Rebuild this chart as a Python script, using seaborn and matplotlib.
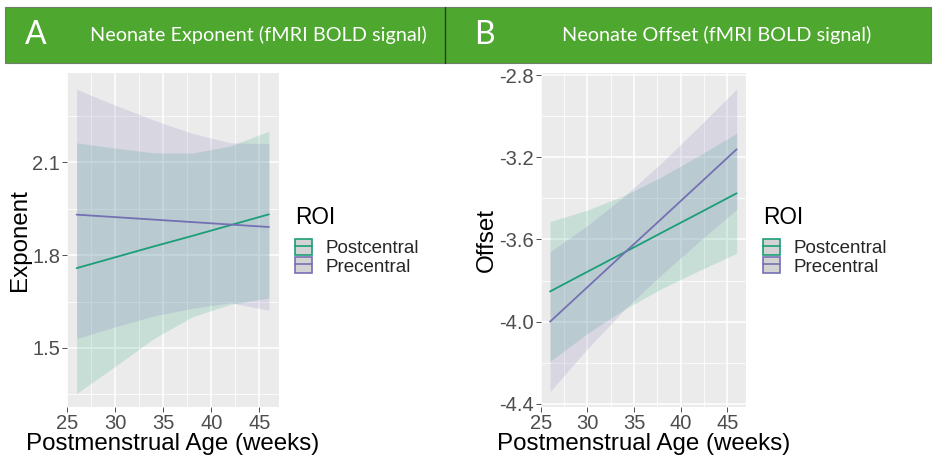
import numpy as np
import pandas as pd
import matplotlib
matplotlib.use("Agg")
import matplotlib.pyplot as plt
from matplotlib.patches import Rectangle, Patch
from matplotlib.lines import Line2D
from matplotlib.ticker import MultipleLocator
import seaborn as sns

# ---- data -------------------------------------------------------------
rois = ["Postcentral", "Precentral"]
age = [26, 30, 34, 38, 42, 46]

# Exponent: fitted line and 95% CI band per ROI
exp_post_fit = [1.758, 1.793, 1.828, 1.862, 1.897, 1.932]
exp_post_lo = [1.353, 1.440, 1.530, 1.600, 1.641, 1.662]
exp_post_hi = [2.163, 2.146, 2.131, 2.130, 2.153, 2.201]
exp_pre_fit = [1.931, 1.923, 1.915, 1.907, 1.899, 1.891]
exp_pre_lo = [1.530, 1.568, 1.603, 1.628, 1.646, 1.622]
exp_pre_hi = [2.336, 2.285, 2.237, 2.194, 2.163, 2.161]

# Offset: fitted line and 95% CI band per ROI
off_post_fit = [-3.853, -3.757, -3.662, -3.566, -3.471, -3.375]
off_post_lo = [-4.193, -4.057, -3.939, -3.838, -3.751, -3.667]
off_post_hi = [-3.513, -3.457, -3.385, -3.294, -3.191, -3.083]
off_pre_fit = [-4.000, -3.832, -3.664, -3.497, -3.329, -3.161]
off_pre_lo = [-4.340, -4.132, -3.940, -3.769, -3.609, -3.454]
off_pre_hi = [-3.660, -3.532, -3.388, -3.225, -3.049, -2.868]

exp_ticks = [1.5, 1.8, 2.1]
off_ticks = [-4.4, -4.0, -3.6, -3.2, -2.8]
age_ticks = [25, 30, 35, 40, 45]

panel_letters = ["A", "B"]
panel_titles = ["Neonate Exponent (fMRI BOLD signal)", "Neonate Offset (fMRI BOLD signal)"]
legend_title = "ROI"

palette = {"Postcentral": "#1B9E77", "Precentral": "#7570B3"}


def long_frame(post_fit, post_lo, post_hi, pre_fit, pre_lo, pre_hi):
    rows = []
    for roi, fit, lo, hi in (("Postcentral", post_fit, post_lo, post_hi),
                             ("Precentral", pre_fit, pre_lo, pre_hi)):
        for a, f, l, h in zip(age, fit, lo, hi):
            rows.append({"age": a, "fit": f, "lo": l, "hi": h, "ROI": roi})
    return pd.DataFrame(rows)


df_exp = long_frame(exp_post_fit, exp_post_lo, exp_post_hi, exp_pre_fit, exp_pre_lo, exp_pre_hi)
df_off = long_frame(off_post_fit, off_post_lo, off_post_hi, off_pre_fit, off_pre_lo, off_pre_hi)

# ---- style ------------------------------------------------------------
sns.set_theme(style="darkgrid", rc={"axes.facecolor": "#EBEBEB", "grid.color": "white"})
plt.rcParams["font.family"] = ["Liberation Sans", "DejaVu Sans"]
plt.rcParams["axes.unicode_minus"] = False

W, H = 934, 458
fig = plt.figure(figsize=(W / 100, H / 100), dpi=100)
fig.patch.set_facecolor("white")


def px_axes(left, top, right, bottom):
    return fig.add_axes([left / W, 1 - bottom / H, (right - left) / W, (bottom - top) / H])


def draw_panel(ax, df, ylim, yticks, ylabel, minor_y):
    for roi in rois:
        sub = df[df["ROI"] == roi]
        ax.fill_between(sub["age"], sub["lo"], sub["hi"], color=palette[roi],
                        alpha=0.17, linewidth=0, zorder=2)
    sns.lineplot(data=df, x="age", y="fit", hue="ROI", palette=palette, ax=ax,
                 legend=False, linewidth=1.3, zorder=3)
    ax.set_xlim(25, 47)
    ax.set_ylim(*ylim)
    ax.set_xticks(age_ticks)
    ax.set_xticklabels([str(t) for t in age_ticks])
    ax.set_yticks(yticks)
    ax.set_yticklabels([f"{t:.1f}" for t in yticks])
    ax.xaxis.set_minor_locator(MultipleLocator(2.5))
    ax.yaxis.set_minor_locator(MultipleLocator(minor_y))
    ax.grid(which="major", color="white", linewidth=1.1)
    ax.grid(which="minor", color="white", linewidth=0.55)
    ax.set_axisbelow(True)
    for s in ax.spines.values():
        s.set_visible(False)
    ax.tick_params(which="major", direction="out", length=3.5, width=0.6, color="#333333",
                   labelsize=14.5, labelcolor="#4D4D4D", pad=1.5, bottom=True, left=True)
    ax.tick_params(which="minor", length=0)
    ax.set_xlabel("Postmenstrual Age (weeks)", fontsize=17.4, color="black", labelpad=0)
    ax.set_ylabel(ylabel, fontsize=17.4, color="black", labelpad=1)


ax_a = px_axes(67, 73, 278.5, 407)
draw_panel(ax_a, df_exp, (1.309, 2.389), exp_ticks, "Exponent", 0.15)
ax_b = px_axes(540.7, 73, 746, 407)
draw_panel(ax_b, df_off, (-4.415, -2.790), off_ticks, "Offset", 0.2)


def add_legend(x_px):
    # title placed on its own, keys stacked below it
    fig.text(x_px / W, 1 - 218 / H, legend_title, fontsize=16.3, color="black",
             ha="left", va="center")
    handles = [(Patch(facecolor="#D3D3D3", edgecolor=palette[r], linewidth=1.2),
                Line2D([0], [0], color=palette[r], linewidth=1.2)) for r in rois]
    leg = fig.legend(handles, rois, loc="upper left",
                     bbox_to_anchor=(x_px / W, 1 - 239 / H), bbox_transform=fig.transFigure,
                     frameon=False, fontsize=13.5,
                     handlelength=0.9, handleheight=0.9, labelspacing=0.0,
                     handletextpad=0.75, borderpad=0, borderaxespad=0)
    return leg


add_legend(295)
add_legend(763)

# ---- header banners ---------------------------------------------------
banner_top, banner_bot = 7, 63
fig.patches.append(Rectangle((5 / W, 1 - banner_bot / H), (931 - 5) / W, (banner_bot - banner_top) / H,
                             transform=fig.transFigure, facecolor="#4EA72E",
                             edgecolor="#6E7F6A", linewidth=0.8, zorder=0))
fig.lines.append(Line2D([445 / W, 445 / W], [1 - banner_bot / H, 1 - banner_top / H],
                        transform=fig.transFigure, color="#24421A", linewidth=1.0))

ymid = 1 - 35 / H
hdr_font = ["Lato", "DejaVu Sans"]
fig.text(25 / W, ymid, panel_letters[0], color="white", fontsize=23, family=hdr_font,
         ha="left", va="center")
fig.text(90 / W, ymid, panel_titles[0], color="white", fontsize=14.3, family=hdr_font,
         ha="left", va="center")
fig.text(474 / W, ymid, panel_letters[1], color="white", fontsize=23, family=hdr_font,
         ha="left", va="center")
fig.text(562 / W, ymid, panel_titles[1], color="white", fontsize=14.3, family=hdr_font,
         ha="left", va="center")

fig.savefig("out.png", dpi=100)
